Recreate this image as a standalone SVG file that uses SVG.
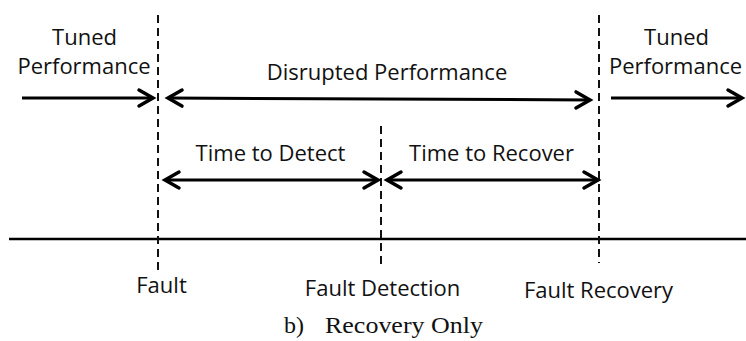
<svg xmlns="http://www.w3.org/2000/svg" width="746" height="341" viewBox="0 0 746 341">
<style>
.lbl{font-family:"Open Sans","Noto Sans",sans-serif;font-size:22px;fill:#111;text-anchor:middle}
.cap{font-family:"Liberation Serif","Times New Roman",serif;font-size:24px;fill:#111}
.dash{stroke:#111;stroke-width:2;stroke-dasharray:8 5;fill:none}
.arr{stroke:#000;stroke-width:3;fill:none}
.axis{stroke:#000;stroke-width:2.5;fill:none}
</style>
<defs>
<marker id="head" viewBox="-16 -10 18 20" refX="0" refY="0" markerWidth="18" markerHeight="20" markerUnits="userSpaceOnUse" orient="auto-start-reverse" overflow="visible">
<path d="M-14,-8 L0,0 L-14,8" fill="none" stroke="#000" stroke-width="3.5" stroke-linecap="round" stroke-linejoin="miter"/>
</marker>
</defs>
<g id="axis"><line class="axis" x1="9" y1="239" x2="746" y2="239"/></g>
<g id="fault">
<line class="dash" x1="158" y1="15" x2="158" y2="270"/>
<text class="lbl" x="161.5" y="293">Fault</text>
</g>
<g id="fault-detection">
<line class="dash" x1="381" y1="126" x2="381" y2="267"/>
<text class="lbl" x="382.5" y="296">Fault Detection</text>
</g>
<g id="fault-recovery">
<line class="dash" x1="599" y1="15" x2="599" y2="263"/>
<text class="lbl" x="598.5" y="298">Fault Recovery</text>
</g>
<g id="tuned-left">
<text class="lbl" x="84.5" y="45">Tuned</text>
<text class="lbl" x="84" y="74">Performance</text>
</g>
<g id="disrupted">
<text class="lbl" x="387" y="80">Disrupted Performance</text>
</g>
<g id="tuned-right">
<text class="lbl" x="676.5" y="45">Tuned</text>
<text class="lbl" x="675.5" y="74">Performance</text>
</g>
<g id="time-detect"><text class="lbl" x="270.5" y="161">Time to Detect</text></g>
<g id="time-recover"><text class="lbl" x="491.5" y="161">Time to Recover</text></g>
<g id="connectors">
<line class="arr" x1="22" y1="98" x2="153" y2="98" marker-end="url(#head)"/>
<line class="arr" x1="168" y1="98" x2="590" y2="100" marker-start="url(#head)" marker-end="url(#head)"/>
<line class="arr" x1="611" y1="98" x2="742" y2="98" marker-end="url(#head)"/>
<line class="arr" x1="165" y1="180" x2="378" y2="180" marker-start="url(#head)" marker-end="url(#head)"/>
<line class="arr" x1="387" y1="180" x2="598" y2="180" marker-start="url(#head)" marker-end="url(#head)"/>
</g>
<g id="caption">
<text class="cap" x="284" y="333">b)</text>
<text class="cap" x="325" y="333" textLength="158" lengthAdjust="spacingAndGlyphs">Recovery Only</text>
</g>
</svg>
